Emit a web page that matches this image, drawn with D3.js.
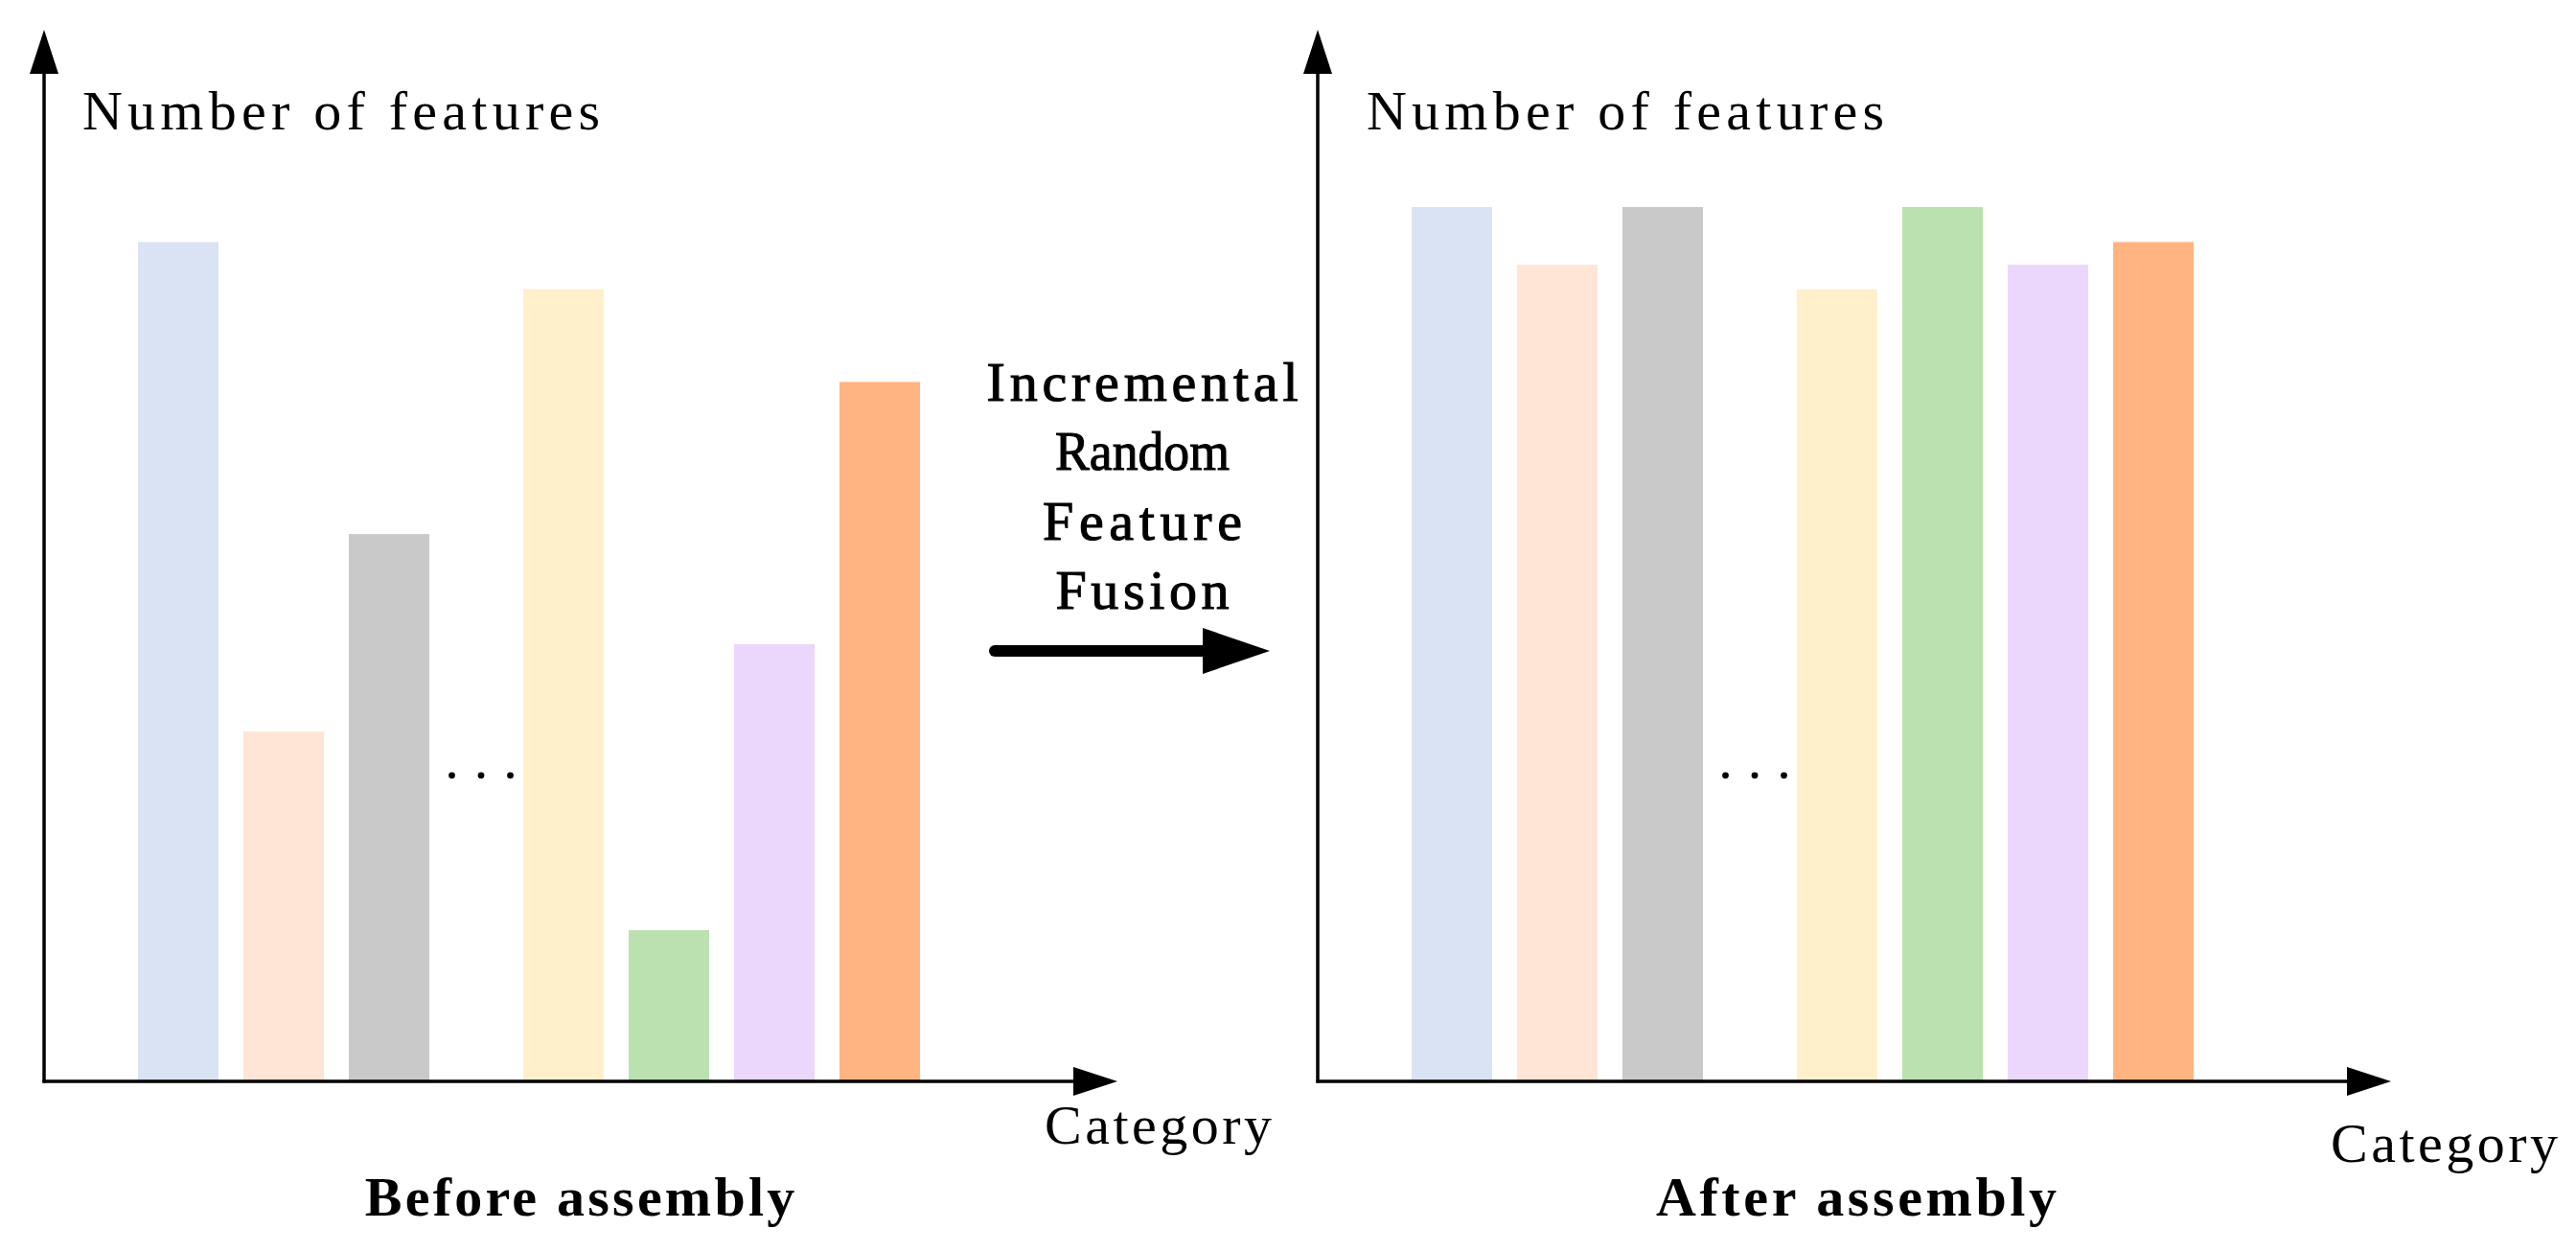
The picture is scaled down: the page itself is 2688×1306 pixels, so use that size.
<!DOCTYPE html>
<html>
<head>
<meta charset="utf-8">
<script src="https://cdn.jsdelivr.net/npm/d3@7"></script>
<style>
html,body{margin:0;padding:0;background:#fff;}
svg{display:block;}
text{font-family:"Liberation Serif","DejaVu Serif",serif;fill:#000;}
</style>
</head>
<body>
<script>
// ---- data ----
const categories = ["C1","C2","C3","C4","C5","C6","C7"];
const beforeValues = [96, 40, 62.6, 90.6, 17.3, 50, 80];
const afterValues  = [100, 93.4, 100, 90.6, 100, 93.4, 96];
const barColors = ["#DAE3F3","#FEE5D5","#C9C9C9","#FFF0CB","#BBE1B0","#EBD6FC","#FFB482"];
const yLabel = "Number of features";
const xLabel = "Category";
const panelTitles = ["Before assembly","After assembly"];
const middleLines = ["Incremental","Random","Feature","Fusion"];
const ellipsisValue = 35;

const W = 2688, H = 1306;
const svg = d3.select("body").append("svg").attr("width", W).attr("height", H);

const baseY = 1128;
const y = d3.scaleLinear().domain([0, 100]).range([baseY, 216]);

// fit a text element to a target width: spread spacing if narrower, squeeze glyphs if wider
function fit(sel, target) {
  sel.each(function() {
    const t = typeof target === "function" ? target(d3.select(this).datum()) : target;
    const nat = this.getComputedTextLength();
    d3.select(this).attr("textLength", t).attr("lengthAdjust", nat < t ? "spacing" : "spacingAndGlyphs");
  });
}

function panel(ox, values, title, titleCx, catX, catBaseline, yLabX) {
  const g = svg.append("g").attr("transform", `translate(${ox},0)`);
  const x = d3.scaleBand().domain(categories).range([98, 98 + 6*110 + 84]).paddingInner(26/110).paddingOuter(0);
  const gap = 72;
  const xp = (c, i) => x(c) + (i >= 3 ? gap : 0);

  g.selectAll("rect.bar").data(values).join("rect")
    .attr("class","bar")
    .attr("x", (d,i) => xp(categories[i], i))
    .attr("width", x.bandwidth())
    .attr("y", d => y(d))
    .attr("height", d => y(0) - y(d))
    .attr("fill", (d,i) => barColors[i]);

  // ellipsis
  const c3 = xp(categories[2],2) + x.bandwidth()/2;
  const c4 = xp(categories[3],3) + x.bandwidth()/2;
  const mid = (c3 + c4)/2 + 5;
  g.selectAll("circle.dot").data([-1,0,1]).join("circle")
    .attr("cx", d => mid + d*30.5).attr("cy", y(ellipsisValue)).attr("r", 3.4).attr("fill","#000");

  // axes
  const tipY = 31, tipX = 1120;
  g.append("line").attr("x1",0).attr("x2",0).attr("y1",baseY+1.5).attr("y2",tipY+40)
    .attr("stroke","#000").attr("stroke-width",3.5);
  g.append("path").attr("d",`M0,${tipY} L-15,${tipY+46} L15,${tipY+46} Z`).attr("fill","#000");
  g.append("line").attr("x1",-1.5).attr("x2",tipX-40).attr("y1",baseY).attr("y2",baseY)
    .attr("stroke","#000").attr("stroke-width",3.5);
  g.append("path").attr("d",`M${tipX},${baseY} L${tipX-46},${baseY-15} L${tipX-46},${baseY+15} Z`).attr("fill","#000");

  g.append("text").attr("x",yLabX).attr("y",135).attr("font-size",58).text(yLabel).call(fit, 540);
  g.append("text").attr("x",catX).attr("y",catBaseline).attr("font-size",58).text(xLabel).call(fit, 237);
  g.append("text").attr("x",titleCx).attr("y",1268).attr("font-size",58).attr("font-weight","bold")
    .attr("text-anchor","middle").text(title).call(fit, title.length*30.3 - 6);
}

panel(46, beforeValues, panelTitles[0], 605-46, 1090-46, 1193, 40);
panel(1375, afterValues, panelTitles[1], 1937-1375, 2432-1375, 1212, 51);

// middle annotation
const midW = {"Incremental":325,"Random":182,"Feature":208,"Fusion":181};
svg.selectAll("text.mid").data(middleLines).join("text")
  .attr("class","mid")
  .attr("x",1192).attr("y",(d,i)=>418 + i*72.3)
  .attr("font-size",58).attr("text-anchor","middle")
  .attr("stroke","#000").attr("stroke-width",1.1)
  .text(d=>d)
  .call(fit, d => midW[d]);

svg.append("line").attr("x1",1038).attr("x2",1262).attr("y1",679).attr("y2",679)
  .attr("stroke","#000").attr("stroke-width",12).attr("stroke-linecap","round");
svg.append("path").attr("d","M1325,679 L1255,655 L1255,703 Z").attr("fill","#000");
</script>
</body>
</html>
